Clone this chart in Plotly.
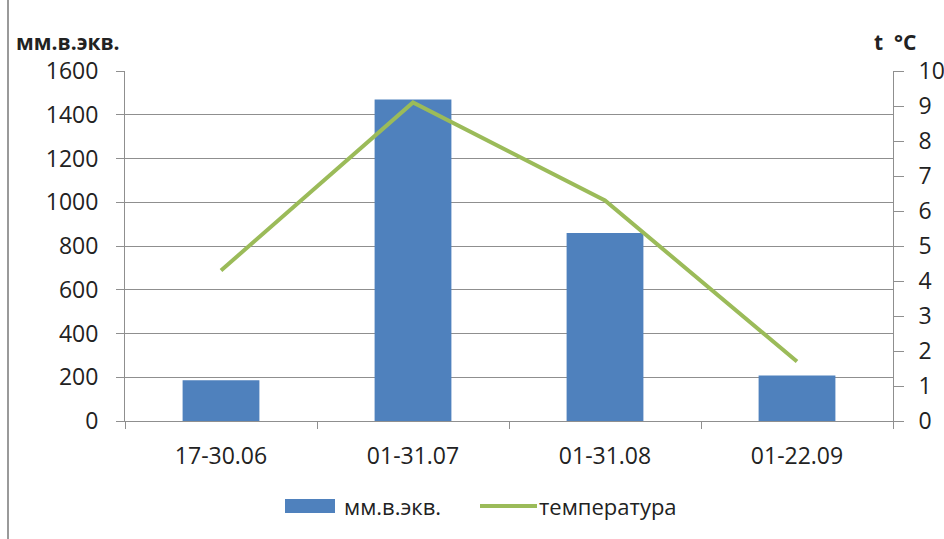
import plotly.graph_objects as go

# Periods of the season
periods = ["17-30.06", "01-31.07", "01-31.08", "01-22.09"]
# Water equivalent, mm
water_eq = [186, 1470, 860, 208]
# Mean air temperature, °C
temperature = [4.3, 9.1, 6.3, 1.7]

left_ticks = [0, 200, 400, 600, 800, 1000, 1200, 1400, 1600]
right_ticks = [0, 1, 2, 3, 4, 5, 6, 7, 8, 9, 10]

BAR_COLOR = "#4F81BD"
LINE_COLOR = "#9BBB59"
GRID = "#8f8f8f"
FONT = "Open Sans"
TXT = "#222222"

fig = go.Figure()
fig.add_trace(go.Bar(
    x=periods, y=water_eq, name="мм.в.экв.",
    marker=dict(color=BAR_COLOR, line=dict(width=0)),
    width=0.4, yaxis="y",
))
fig.add_trace(go.Scatter(
    x=periods, y=temperature, name="температура",
    mode="lines", line=dict(color=LINE_COLOR, width=4),
    yaxis="y2",
))

fig.update_layout(
    width=944, height=539,
    margin=dict(l=125, r=51, t=71, b=118),
    paper_bgcolor="white", plot_bgcolor="white",
    showlegend=False,
    font=dict(family=FONT, color=TXT, size=23),
    xaxis=dict(
        type="category", showgrid=False, automargin=False,
        showline=True, linecolor=GRID, linewidth=1,
        ticks="outside", tickson="boundaries", ticklen=7, tickcolor=GRID,
        tickfont=dict(size=23, family=FONT, color=TXT),
        ticklabelstandoff=14,
    ),
    yaxis=dict(
        range=[0, 1600], tickvals=left_ticks, automargin=False,
        showgrid=True, gridcolor=GRID, gridwidth=1,
        showline=True, linecolor=GRID, linewidth=1,
        ticks="outside", ticklen=8, tickcolor=GRID,
        tickfont=dict(size=23, family=FONT, color=TXT),
        ticklabelstandoff=13, zeroline=False,
    ),
    yaxis2=dict(
        range=[0, 10], tickvals=right_ticks, overlaying="y", side="right",
        automargin=False,
        showgrid=False, showline=True, linecolor=GRID, linewidth=1,
        ticks="outside", ticklen=10, tickcolor=GRID,
        tickfont=dict(size=23, family=FONT, color=TXT),
        ticklabelstandoff=10, zeroline=False,
    ),
)

# Axis unit captions
fig.add_annotation(x=14, y=539 - 42, xref="paper", yref="paper", text="<b>мм.в.экв.</b>",
                   showarrow=False, xanchor="left", yanchor="middle",
                   font=dict(size=21, family=FONT, color=TXT))
fig.add_annotation(x=895, y=539 - 42, xref="paper", yref="paper", text="<b>t  °C</b>",
                   showarrow=False, xanchor="center", yanchor="middle",
                   font=dict(size=21, family=FONT, color=TXT))

# Custom legend row
fig.add_shape(type="rect", xref="paper", yref="paper",
              x0=285, x1=335, y0=539 - 513, y1=539 - 499,
              fillcolor=BAR_COLOR, line=dict(width=0))
fig.add_annotation(x=342, y=539 - 506, xref="paper", yref="paper", text="мм.в.экв.",
                   showarrow=False, xanchor="left", yanchor="middle",
                   font=dict(size=22, family=FONT, color=TXT))
fig.add_shape(type="line", xref="paper", yref="paper",
              x0=480, x1=537, y0=539 - 506, y1=539 - 506,
              line=dict(color=LINE_COLOR, width=4))
fig.add_annotation(x=537, y=539 - 506, xref="paper", yref="paper", text="температура",
                   showarrow=False, xanchor="left", yanchor="middle",
                   font=dict(size=22, family=FONT, color=TXT))

# Frame line on the left edge
fig.add_shape(type="line", xref="paper", yref="paper",
              x0=8, x1=8, y0=0, y1=539, line=dict(color="#9a9a9a", width=2))

# Convert pixel positions of overlay items to paper fractions
pw, ph = 944 - 125 - 51, 539 - 71 - 118
for a in fig.layout.annotations:
    a.x = (a.x - 125) / pw
    a.y = (a.y - 118) / ph
for s in fig.layout.shapes:
    s.x0 = (s.x0 - 125) / pw
    s.x1 = (s.x1 - 125) / pw
    s.y0 = (s.y0 - 118) / ph
    s.y1 = (s.y1 - 118) / ph

fig.write_html("out.html")
